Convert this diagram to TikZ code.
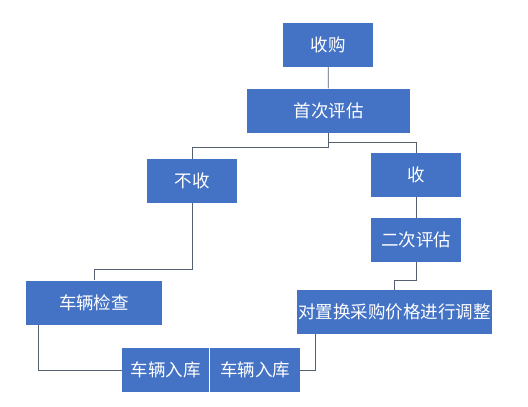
\documentclass[tikz,border=0pt]{standalone}
\usepackage{fontspec}
\newfontfamily\cjk{Noto Sans CJK SC}
\usepackage{tikz}
\usetikzlibrary{positioning}
\definecolor{boxblue}{RGB}{68,114,196}
\definecolor{linegray}{RGB}{85,96,112}

\begin{document}
\begin{tikzpicture}[x=1pt,y=-1pt,
  box/.style={fill=boxblue,text=white,inner sep=0pt,minimum height=44pt,font=\cjk\fontsize{17.5}{20}\selectfont},
  link/.style={draw=linegray,line width=0.8pt}]
\useasboundingbox[fill=white] (0,0) rectangle (528,407);
\node[box,minimum width=90pt] (sg) at (328,45) {收购};
\node[box,minimum width=163pt] (pg1) at (328.5,110.5) {首次评估};
\node[box,minimum width=90pt] (bs) at (192,181) {不收};
\node[box,minimum width=90pt] (ss) at (416,175) {收};
\node[box,minimum width=90pt] (pg2) at (416,240) {二次评估};
\node[box,minimum width=136pt] (jc) at (94,302.5) {车辆检查};
\node[box,minimum width=195pt] (tz) at (394.5,312) {对置换采购价格进行调整};
\node[box,minimum width=87pt] (rk1) at (165.5,370) {车辆入库};
\node[box,minimum width=90pt] (rk2) at (255,370) {车辆入库};
% connectors
\draw[link] (sg) -- (pg1);
\draw[link] (pg1.south) -- ++(0,15) -| (bs.north);
\draw[link] (pg1.south) -- ++(0,10) -| (ss.north);
\draw[link] (ss) -- (pg2);
\draw[link] (pg2.south) -- ++(0,18) -| (tz.north);
\draw[link] (bs.south) -- ++(0,66) -| (jc.north);
\draw[link] ([xshift=13pt]jc.south west) |- (rk1.west);
\draw[link] ([xshift=19pt]tz.south west) |- (rk2.east);
\end{tikzpicture}
\end{document}
